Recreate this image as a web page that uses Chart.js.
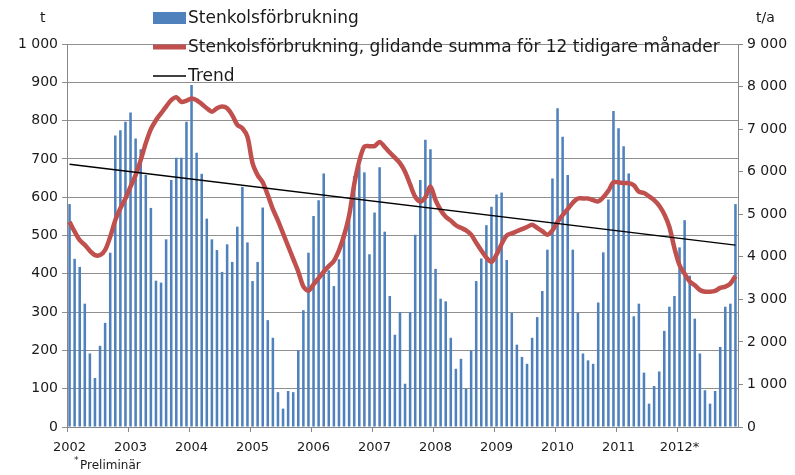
<!DOCTYPE html>
<html>
<head>
<meta charset="utf-8">
<script src="https://cdn.jsdelivr.net/npm/chart.js@4.4.0/dist/chart.umd.min.js"></script>
<style>
  html, body { margin: 0; padding: 0; background: #fff; }
</style>
</head>
<body>
<canvas id="mychart" width="795" height="475"></canvas>
<script>
// ---- data ----
var years = ['2002', '2003', '2004', '2005', '2006', '2007', '2008', '2009', '2010', '2011', '2012*'];

// monthly hard coal use, t (left axis)
var monthly = [
  582, 439, 418, 322, 192, 128, 212, 272, 455, 761, 775, 797,   // 2002
  821, 753, 725, 658, 572, 382, 377, 490, 645, 703, 703, 797,   // 2003
  893, 716, 661, 544, 490, 462, 405, 477, 431, 523, 627, 482,   // 2004
  381, 431, 573, 279, 233, 91, 48, 94, 91, 200, 305, 455,       // 2005
  551, 592, 662, 409, 368, 438, 501, 540, 655, 681, 665, 451,   // 2006
  560, 678, 510, 342, 241, 300, 113, 300, 502, 645, 750, 725,   // 2007
  413, 335, 328, 233, 152, 178, 100, 200, 381, 440, 527, 575,   // 2008
  607, 612, 436, 298, 215, 183, 165, 233, 287, 355, 463, 649,   // 2009
  832, 758, 658, 463, 298, 192, 174, 165, 325, 456, 594, 825,   // 2010
  780, 733, 662, 289, 322, 142, 61, 107, 145, 251, 314, 342,    // 2011
  469, 540, 395, 283, 192, 96, 61, 94, 209, 314, 322, 582       // 2012
];

// moving 12 month sum, t/a (right axis)
var rolling = [
  4820, 4590, 4390, 4280, 4140, 4040, 4040, 4160, 4470, 4860, 5140, 5370,
  5650, 5920, 6270, 6670, 7000, 7210, 7370, 7530, 7680, 7750, 7640, 7670,
  7720, 7680, 7590, 7490, 7410, 7490, 7530, 7490, 7330, 7100, 7020, 6820,
  6200, 5920, 5750, 5450, 5120, 4850, 4550, 4250, 3950, 3650, 3300, 3200,
  3350, 3500, 3650, 3780, 3900, 4150, 4500, 4970, 5700, 6250, 6590, 6600,
  6600, 6700, 6580, 6450, 6330, 6200, 6000, 5700, 5410, 5300, 5400, 5650,
  5330, 5100, 4940, 4850, 4740, 4680, 4620, 4520, 4330, 4150, 3980, 3880,
  4050, 4300, 4500, 4550, 4600, 4650, 4700, 4750, 4680, 4600, 4520, 4620,
  4820, 4980, 5120, 5270, 5370, 5370, 5370, 5330, 5300, 5400, 5550, 5750,
  5750, 5730, 5730, 5680, 5530, 5500, 5420, 5330, 5200, 5000, 4700, 4200,
  3800, 3600, 3420, 3330, 3220, 3180, 3180, 3200, 3270, 3300, 3370, 3550
];

// straight trend line, left axis: value at first and last month
var trendStart = 686;
var trendEnd = 475;

var leftMax = 1000, leftStep = 100;
var rightMax = 9000, rightStep = 1000;

// build month labels and the trend series (only end points, gap spanned)
var labels = [];
years.forEach(function(y) {
  for (var m = 1; m <= 12; m++) labels.push(y + '-' + m);
});
var trend = monthly.map(function() { return null; });
trend[0] = trendStart;
trend[trend.length - 1] = trendEnd;

function fmt(v) {
  if (v < 1000) return String(v);
  return Math.floor(v / 1000) + ' ' + String(v % 1000).padStart(3, '0');
}

var FONT = 'DejaVu Sans';
var TXT = '#1a1a1a';

// legend + axis units + footnote drawn over the plot like in the original
var overlay = {
  id: 'overlay',
  afterDraw: function(chart) {
    var c = chart.ctx;
    var ds = chart.data.datasets;
    c.save();
    c.textBaseline = 'middle';
    c.fillStyle = TXT;

    var lx = 153, tx = 188;
    var rows = [18, 47, 76];
    // bars
    c.fillStyle = ds[0].backgroundColor;
    c.fillRect(lx, rows[0] - 6, 33, 12);
    // red line
    c.strokeStyle = ds[1].borderColor;
    c.lineWidth = 5;
    c.beginPath(); c.moveTo(lx, rows[1]); c.lineTo(lx + 33, rows[1]); c.stroke();
    // trend
    c.strokeStyle = ds[2].borderColor;
    c.lineWidth = 1.5;
    c.beginPath(); c.moveTo(lx, rows[2]); c.lineTo(lx + 33, rows[2]); c.stroke();

    c.fillStyle = TXT;
    c.textAlign = 'left';
    c.font = '17px "' + FONT + '"';
    for (var i = 0; i < 3; i++) c.fillText(ds[i].label, tx, rows[i] + 1);

    // axis units
    c.font = '14px "' + FONT + '"';
    c.fillText('t', 40, 18);
    c.fillText('t/a', 756, 18);

    // footnote
    c.font = '9px "' + FONT + '"';
    c.fillText('*', 74, 461);
    c.font = '12px "' + FONT + '"';
    c.fillText('Preliminär', 80, 466);
    c.restore();
  }
};

var context = document.getElementById('mychart').getContext('2d');
var chart = new Chart(context, {
  data: {
    labels: labels,
    datasets: [
      {
        type: 'bar',
        label: 'Stenkolsförbrukning',
        data: monthly,
        backgroundColor: '#4f81bd',
        barPercentage: 0.5,
        categoryPercentage: 1,
        yAxisID: 'y',
        order: 3
      },
      {
        type: 'line',
        label: 'Stenkolsförbrukning, glidande summa för 12 tidigare månader',
        data: rolling,
        borderColor: '#c0504d',
        borderWidth: 4.5,
        pointRadius: 0,
        tension: 0.3,
        yAxisID: 'y1',
        order: 2
      },
      {
        type: 'line',
        label: 'Trend',
        data: trend,
        borderColor: '#000000',
        borderWidth: 1.3,
        pointRadius: 0,
        spanGaps: true,
        yAxisID: 'y',
        order: 1
      }
    ]
  },
  options: {
    responsive: false,
    animation: false,
    devicePixelRatio: 1,
    layout: { padding: { top: 44, left: 0, right: 0, bottom: 0 } },
    plugins: {
      legend: { display: false },
      tooltip: { enabled: false }
    },
    scales: {
      x: {
        type: 'category',
        offset: true,
        grid: {
          offset: true,
          drawOnChartArea: false,
          drawTicks: true,
          tickLength: 5,
          color: function(ctx) { return ctx.index % 12 === 0 ? '#888' : 'rgba(0,0,0,0)'; }
        },
        border: { color: '#888' },
        ticks: {
          autoSkip: false,
          maxRotation: 0,
          padding: 8,
          color: TXT,
          font: { family: FONT, size: 13 },
          callback: function(v, i) { return i % 12 === 0 ? years[i / 12] : ''; }
        },
        afterFit: function(s) { s.height = 48; }
      },
      y: {
        position: 'left',
        min: 0,
        max: leftMax,
        grid: { color: '#8f8f8f', tickLength: 5 },
        border: { color: '#888' },
        ticks: {
          stepSize: leftStep,
          padding: 4,
          color: TXT,
          font: { family: FONT, size: 14 },
          callback: function(v) { return fmt(v); }
        },
        afterFit: function(s) { s.width = 67; }
      },
      y1: {
        position: 'right',
        min: 0,
        max: rightMax,
        grid: { drawOnChartArea: false, color: '#888', tickLength: 5 },
        border: { color: '#888' },
        ticks: {
          stepSize: rightStep,
          padding: 4,
          color: TXT,
          font: { family: FONT, size: 14 },
          callback: function(v) { return fmt(v); }
        },
        afterFit: function(s) { s.width = 57; }
      }
    }
  },
  plugins: [overlay]
});
</script>
</body>
</html>
